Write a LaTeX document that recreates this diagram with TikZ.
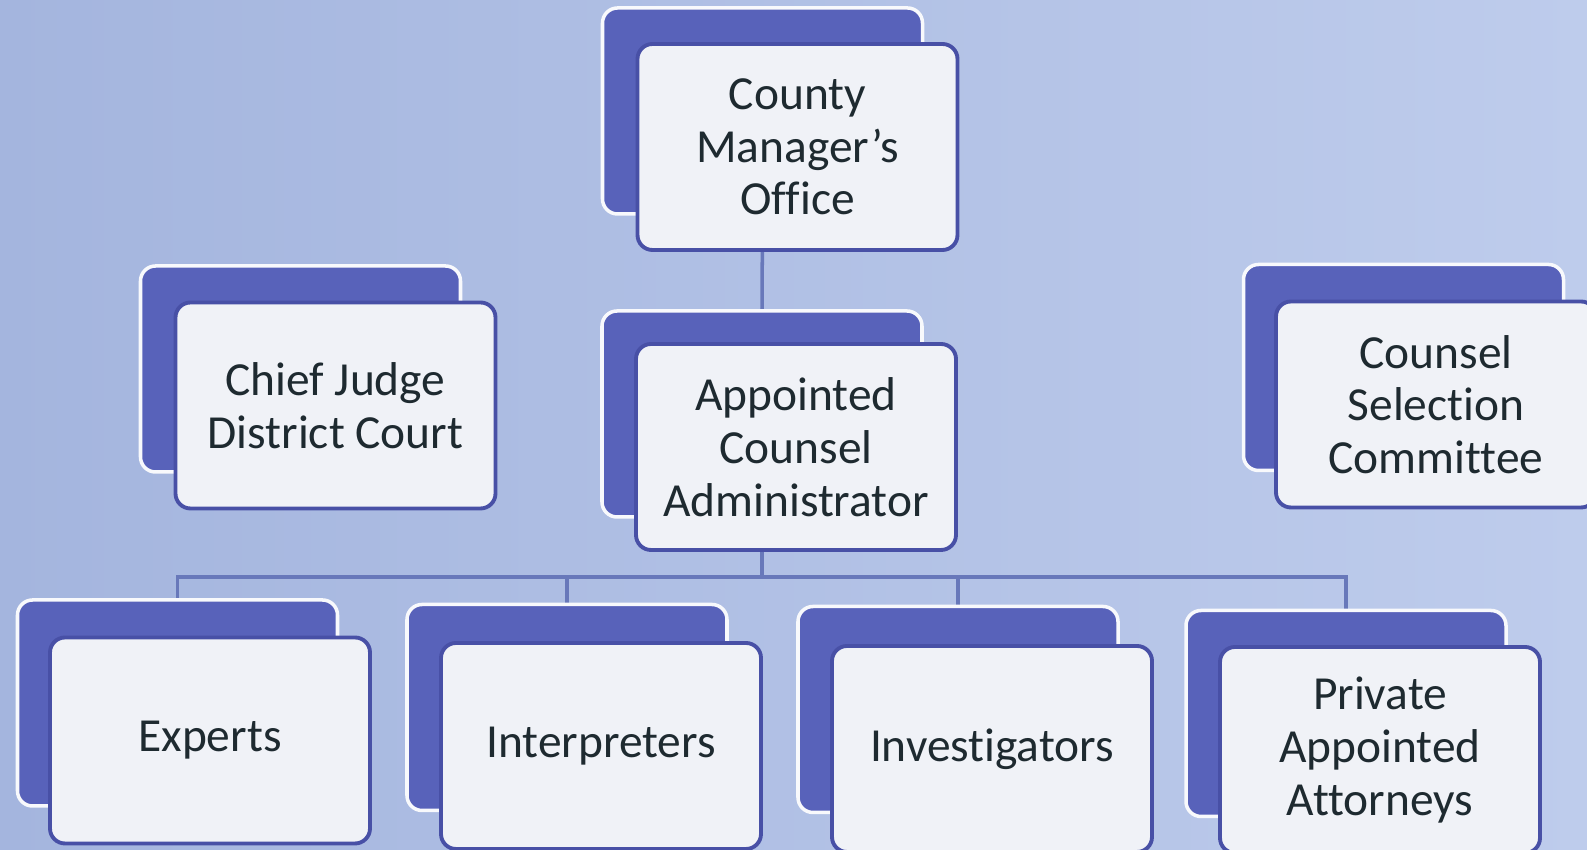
\documentclass[tikz,border=0pt]{standalone}
\usepackage{fontspec}
\setmainfont{Carlito}[Ligatures={TeX,NoCommon}]
\usepackage{tikz}
\definecolor{bgleft}{RGB}{164,181,222}
\definecolor{bgright}{RGB}{190,204,236}
\definecolor{backblue}{RGB}{88,98,186}
\definecolor{frontblue}{RGB}{72,80,166}
\definecolor{frontfill}{RGB}{240,242,247}
\definecolor{linkblue}{RGB}{104,120,186}
\definecolor{textdark}{RGB}{30,42,48}
\pgfdeclarelayer{bg}
\pgfsetlayers{bg,main}

\begin{document}
\begin{tikzpicture}[
    backbox/.style={draw=white!92!bgleft,line width=1pt,fill=backblue,rounded corners=0.15cm,
      minimum width=3.2cm,minimum height=2.06cm,inner sep=0pt},
    frontbox/.style={draw=frontblue,line width=1.1pt,fill=frontfill,rounded corners=0.15cm,
      minimum width=3.2cm,minimum height=2.06cm,inner sep=0pt,align=center,
      text=textdark,font=\fontsize{13.5pt}{15pt}\selectfont},
    link/.style={draw=linkblue,line width=1pt}]
  \useasboundingbox (0,0) rectangle (15.87,-8.5);
  \begin{pgfonlayer}{bg}
    \shade [left color=bgleft,right color=bgright] (0,0) rectangle (15.87,-8.5);
  \end{pgfonlayer}

  \node [backbox] (countyb) at (7.625,-1.11) {};
  \node [frontbox] (county) at (7.975,-1.47) {County\\Manager’s\\Office};

  \node [backbox] (judgeb) at (3.005,-3.69) {};
  \node [frontbox] (judge) at (3.355,-4.055) {Chief Judge\\District Court};

  \node [backbox] (adminb) at (7.62,-4.14) {};
  \node [frontbox] (admin) at (7.96,-4.47) {Appointed\\Counsel\\Administrator};

  \node [backbox] (committeeb) at (14.035,-3.675) {};
  \node [frontbox] (committee) at (14.36,-4.045) {Counsel\\Selection\\Committee};

  \node [backbox] (expertsb) at (1.775,-7.03) {};
  \node [frontbox] (experts) at (2.10,-7.405) {Experts};

  \node [backbox] (interpb) at (5.67,-7.075) {};
  \node [frontbox] (interp) at (6.01,-7.46) {Interpreters};

  \node [backbox] (investb) at (9.58,-7.095) {};
  \node [frontbox] (invest) at (9.92,-7.49) {Investigators};

  \node [backbox] (privateb) at (13.46,-7.135) {};
  \node [frontbox] (private) at (13.80,-7.50) {Private\\Appointed\\Attorneys};

  \begin{pgfonlayer}{bg}
    \path (adminb.south) ++(0,-0.58) coordinate (bus);
    \draw [link] (countyb.south) -- (adminb.north);
    \draw [link] (adminb.south) -- (bus);
    \draw [link] (expertsb.north) |- (bus) -| (privateb.north);
    \draw [link] (interpb.north) -- (interpb.north |- bus);
    \draw [link] (investb.north) -- (investb.north |- bus);
  \end{pgfonlayer}
\end{tikzpicture}
\end{document}
